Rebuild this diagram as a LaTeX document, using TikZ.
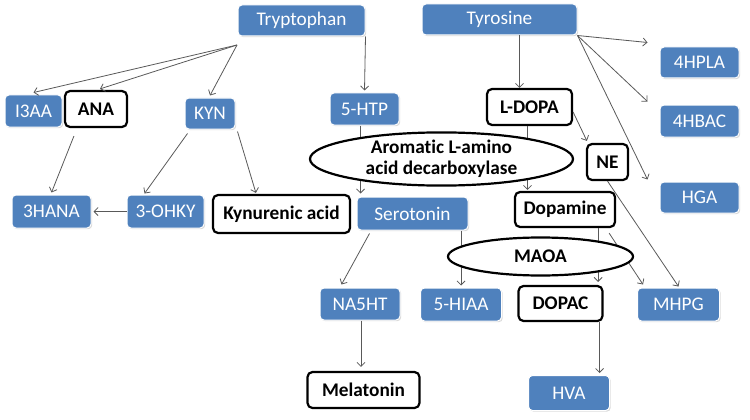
\documentclass[tikz,border=0pt]{standalone}
\usepackage{fontspec}
\setmainfont[Ligatures=NoCommon]{Carlito}
\usetikzlibrary{arrows.meta,shapes.geometric,shadows,calc}
\definecolor{boxblue}{HTML}{4F81BD}
\definecolor{arrowgray}{HTML}{595959}
\tikzset{
  bluebox/.style={rectangle, rounded corners=4pt, fill=boxblue, draw=white, line width=1pt,
    text=white, font=\fontsize{19.3}{22}\selectfont, inner sep=0pt,
    drop shadow={shadow xshift=1.2pt, shadow yshift=-1.2pt, opacity=0.3}},
  whitebox/.style={rectangle, rounded corners=5pt, fill=white, draw=black, line width=2.2pt,
    text=black, font=\fontsize{19.3}{22}\selectfont\bfseries, inner sep=0pt},
  enzyme/.style={ellipse, fill=white, draw=black, line width=2.2pt, inner sep=0pt,
    text=black, font=\fontsize{19.3}{21}\selectfont\bfseries, align=center},
  conn/.style={draw=arrowgray, line width=0.8pt, -{Straight Barb[length=4pt,width=8pt]}}
}
\begin{document}
\begin{tikzpicture}[x=1pt,y=-1pt]
\useasboundingbox (0,0) rectangle (750,420);
% nodes
\node[bluebox, minimum width=127pt, minimum height=31pt] (trp) at (301.5,20.5) {Tryptophan};
\node[bluebox, minimum width=155pt, minimum height=31pt] (tyr) at (499.5,19.5) {Tyrosine};
\node[bluebox, minimum width=57pt, minimum height=32pt] (i3aa) at (33.5,111) {I3AA};
\node[whitebox, minimum width=62pt, minimum height=36pt] (ana) at (96,109) {ANA};
\node[bluebox, minimum width=50pt, minimum height=31pt] (kyn) at (210,113.5) {KYN};
\node[bluebox, minimum width=69pt, minimum height=32pt] (htp) at (364.5,109) {5-HTP};
\node[whitebox, minimum width=85pt, minimum height=36pt] (ldopa) at (529.5,107) {L-DOPA};
\node[bluebox, minimum width=79pt, minimum height=31pt] (hpla) at (699.5,62.5) {4HPLA};
\node[bluebox, minimum width=79pt, minimum height=32pt] (hbac) at (699.5,121) {4HBAC};
\node[whitebox, minimum width=41pt, minimum height=36pt] (ne) at (607.5,162) {NE};
\node[bluebox, minimum width=79pt, minimum height=31pt] (hga) at (699.5,197.5) {HGA};
\node[bluebox, minimum width=79pt, minimum height=33pt] (hana) at (51.5,211.5) {3HANA};
\node[bluebox, minimum width=77pt, minimum height=33pt] (ohky) at (165.5,211.5) {3-OHKY};
\node[whitebox, minimum width=137pt, minimum height=38pt] (kyna) at (281.5,214) {Kynurenic acid};
\node[bluebox, minimum width=111pt, minimum height=33pt] (ser) at (412.5,213.5) {Serotonin};
\node[whitebox, minimum width=100pt, minimum height=35pt] (dop) at (565,209.5) {Dopamine};
\node[bluebox, minimum width=80pt, minimum height=32pt] (na5ht) at (360,304) {NA5HT};
\node[bluebox, minimum width=81pt, minimum height=33pt] (hiaa) at (461,304.5) {5-HIAA};
\node[whitebox, minimum width=84pt, minimum height=35pt] (dopac) at (560.5,303.5) {DOPAC};
\node[bluebox, minimum width=82pt, minimum height=33pt] (mhpg) at (678.5,304.5) {MHPG};
\node[whitebox, minimum width=112pt, minimum height=36pt] (mel) at (363.5,390) {Melatonin};
\node[bluebox, minimum width=81pt, minimum height=35pt] (hva) at (569,393) {HVA};
\coordinate (trpfan) at (237,45);
% connectors
\draw[conn] (trpfan) -- ([yshift=2pt]i3aa.north);
\draw[conn] (trpfan) -- ([xshift=4pt,yshift=1pt]ana.north);
\draw[conn] (trpfan) -- ([yshift=2pt]kyn.north);
\draw[conn] (trp.south east) -- ([yshift=2pt]htp.north);
\draw[conn] ([xshift=20pt]tyr.south) -- ([xshift=20pt]tyr.south |- ldopa.north);
\draw[conn] (tyr.south east) -- ([xshift=-12pt,yshift=4pt]hpla.north west);
\draw[conn] (tyr.south east) -- ([xshift=-12pt,yshift=3pt]hbac.north west);
\draw[conn] (tyr.south east) -- ([xshift=-12pt,yshift=2pt]hga.north west);
\draw[conn] ([yshift=-5pt]ldopa.east) -- ([xshift=1pt,yshift=2pt]ne.north west);
\draw[conn] ([xshift=-2pt]ldopa.south) -- ([xshift=-2pt,yshift=1pt]ldopa.south |- dop.north);
\draw[conn] (ne.south) -- ([yshift=1pt]mhpg.north);
\draw[conn] ([xshift=-4pt]htp.south) -- ([xshift=-4pt,yshift=3pt]htp.south |- ser.north);
\draw[conn] ([xshift=-18pt]dop.south east) -- ([xshift=-18pt,yshift=3pt]dop.south east |- dopac.north);
\draw[conn] (ser.south -| hiaa.north) -- ([yshift=2pt]hiaa.north);
\draw[conn] ([xshift=-7pt,yshift=-5pt]dop.south east) -- ([xshift=6pt,yshift=3pt]mhpg.north west);
\draw[conn] ([xshift=13pt,yshift=-3pt]ser.south west) -- ([xshift=22pt,yshift=3pt]na5ht.north west);
\draw[conn] ([xshift=1pt]na5ht.south) -- ([xshift=1pt,yshift=4pt]na5ht.south |- mel.north);
\draw[conn] ([xshift=-4pt]dopac.south east) -- ([xshift=-4pt,yshift=2pt]dopac.south east |- hva.north);
\draw[conn] ([xshift=3pt,yshift=-4pt]kyn.south west) -- ([xshift=18pt,yshift=1pt]ohky.north west);
\draw[conn] ([xshift=2pt,yshift=-2pt]kyn.south east) -- ([xshift=44pt,yshift=1pt]kyna.north west);
\draw[conn] ([xshift=10pt,yshift=-8pt]ana.south west) -- ([yshift=2pt]hana.north);
\draw[conn] (ohky.west) -- ([xshift=2pt]hana.east);
% enzymes (drawn over connectors)
\node[enzyme, minimum width=263pt, minimum height=53pt] (aadc) at (441.5,159) {Aromat\kern0pt ic L-amino\\acid decarboxylase};
\node[enzyme, minimum width=185pt, minimum height=38pt] (maoa) at (540.5,256.5) {MAOA};
\end{tikzpicture}
\end{document}
